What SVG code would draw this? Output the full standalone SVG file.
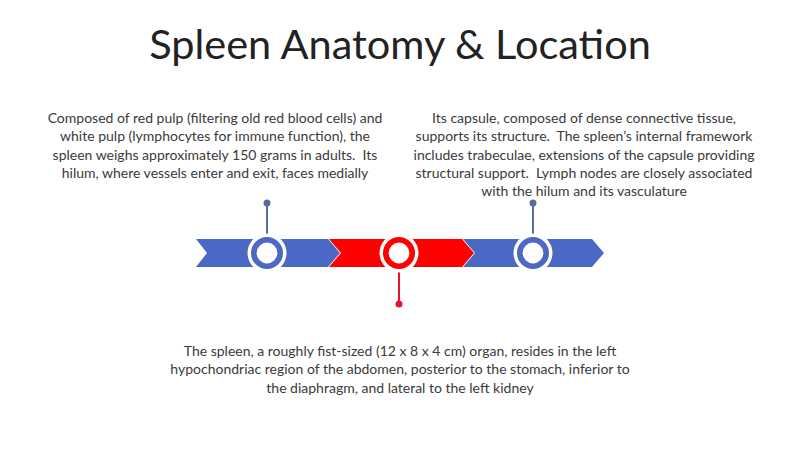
<svg xmlns="http://www.w3.org/2000/svg" width="800" height="449" viewBox="0 0 800 449">
<style>
text{font-family:Lato,"Open Sans","Liberation Sans",sans-serif;fill:#3a3a3a;text-anchor:middle;white-space:pre}
.t{font-size:41.5px;fill:#222}
.b{font-size:14px}
.blue{fill:#4b69c4}
.red{fill:#ff0000}
.ring{fill:#fff;stroke-width:5.6}
</style>
<rect width="800" height="449" fill="#fff"/>
<text class="t" x="400" y="59">Spleen Anatomy &amp; Location</text>
<g id="connectors">
<line x1="267" y1="203" x2="267" y2="236" stroke="#5a6a9c" stroke-width="2"/>
<circle cx="267" cy="203" r="3.5" fill="#5a6a9c"/>
<line x1="533" y1="203" x2="533" y2="236" stroke="#5a6a9c" stroke-width="2"/>
<circle cx="533" cy="203" r="3.5" fill="#5a6a9c"/>
<line x1="399" y1="270" x2="399" y2="304" stroke="#e8132b" stroke-width="2"/>
<circle cx="399" cy="304" r="3.5" fill="#e8132b"/>
</g>
<g id="arrow1">
<polygon class="blue" points="196,239 328,239 340,253 328,267 196,267 207,253"/>
<circle cx="267" cy="253" r="19.5" fill="#fff"/>
<circle class="ring" cx="267" cy="253" r="13.2" stroke="#4b69c4"/>
</g>
<g id="arrow2">
<polygon class="red" points="329,239 462,239 474,253 462,267 329,267 341,253"/>
<circle cx="399" cy="253" r="19.5" fill="#fff"/>
<circle class="ring" cx="399" cy="253" r="13.2" stroke="#ff0000"/>
</g>
<g id="arrow3">
<polygon class="blue" points="463,239 592,239 604,253 592,267 463,267 475,253"/>
<circle cx="533" cy="253" r="19.5" fill="#fff"/>
<circle class="ring" cx="533" cy="253" r="13.2" stroke="#4b69c4"/>
</g>
<g id="text-left">
<text class="b" x="215" y="123">Composed of red pulp (filtering old red blood cells) and</text>
<text class="b" x="215" y="141.3">white pulp (lymphocytes for immune function), the</text>
<text class="b" x="215" y="159.6">spleen weighs approximately 150 grams in adults.  Its</text>
<text class="b" x="215" y="177.9">hilum, where vessels enter and exit, faces medially</text>
</g>
<g id="text-right">
<text class="b" x="584" y="123">Its capsule, composed of dense connective tissue,</text>
<text class="b" x="584" y="141.3">supports its structure.  The spleen’s internal framework</text>
<text class="b" x="584" y="159.6">includes trabeculae, extensions of the capsule providing</text>
<text class="b" x="584" y="177.9">structural support.  Lymph nodes are closely associated</text>
<text class="b" x="584" y="196.2">with the hilum and its vasculature</text>
</g>
<g id="text-bottom">
<text class="b" x="400" y="356">The spleen, a roughly fist-sized (12 x 8 x 4 cm) organ, resides in the left</text>
<text class="b" x="400" y="374.3">hypochondriac region of the abdomen, posterior to the stomach, inferior to</text>
<text class="b" x="400" y="392.6">the diaphragm, and lateral to the left kidney</text>
</g>
</svg>
